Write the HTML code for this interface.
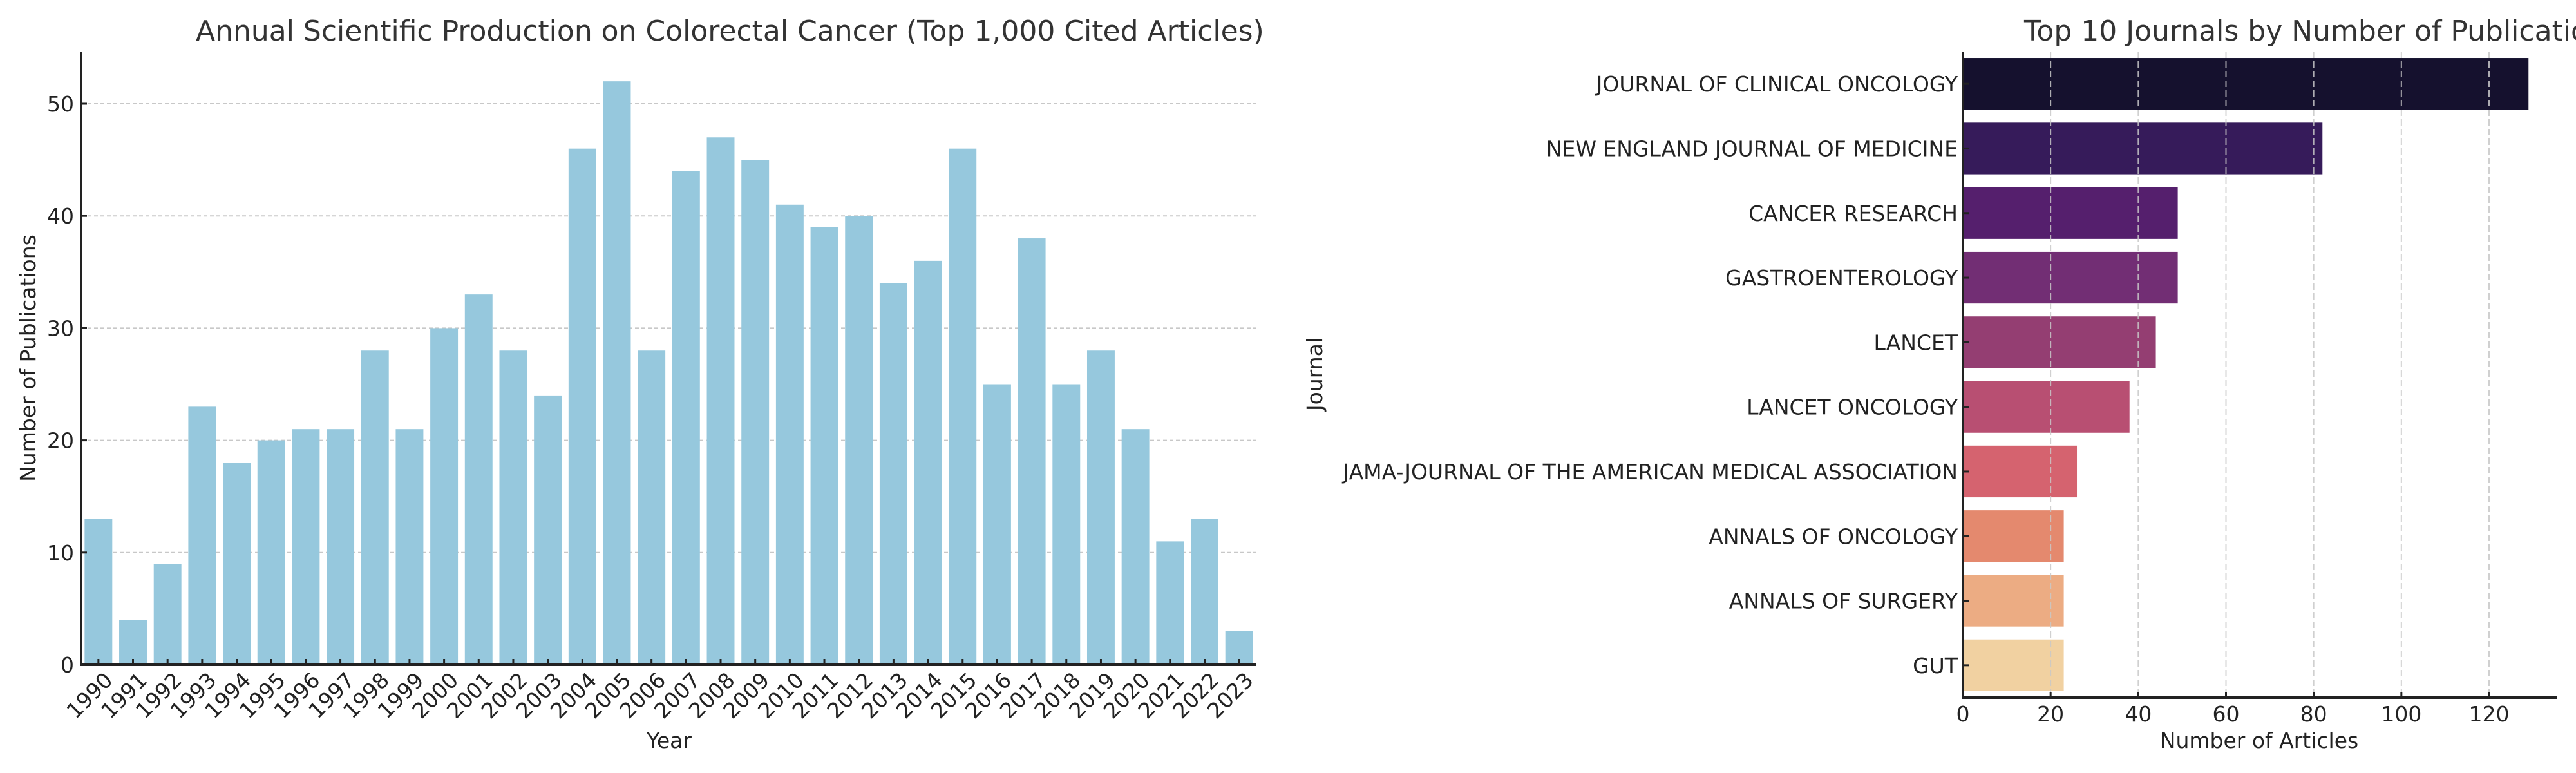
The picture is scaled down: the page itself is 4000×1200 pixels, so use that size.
<!DOCTYPE html>
<html><head><meta charset="utf-8"><style>
html,body{margin:0;padding:0;background:#fff;}
svg{display:block;font-family:"DejaVu Sans","Liberation Sans",sans-serif;}
</style></head><body>
<svg id="chart" width="4000" height="1200" viewBox="0 0 4000 1200" xmlns="http://www.w3.org/2000/svg">
<g id="left"></g>
<g id="right"></g>
</svg>
<script>
const years = ["1990","1991","1992","1993","1994","1995","1996","1997","1998","1999","2000","2001","2002","2003","2004","2005","2006","2007","2008","2009","2010","2011","2012","2013","2014","2015","2016","2017","2018","2019","2020","2021","2022","2023"];
const pubs = [13,4,9,23,18,20,21,21,28,21,30,33,28,24,46,52,28,44,47,45,41,39,40,34,36,46,25,38,25,28,21,11,13,3];
const yTicks = [0,10,20,30,40,50];
const journals = ["JOURNAL OF CLINICAL ONCOLOGY","NEW ENGLAND JOURNAL OF MEDICINE","CANCER RESEARCH","GASTROENTEROLOGY","LANCET","LANCET ONCOLOGY","JAMA-JOURNAL OF THE AMERICAN MEDICAL ASSOCIATION","ANNALS OF ONCOLOGY","ANNALS OF SURGERY","GUT"];
const articles = [129,82,49,49,44,38,26,23,23,23];
const xTicks = [0,20,40,60,80,100,120];
const palette = ["#15112e","#361b5a","#551f6d","#722e74","#943e72","#b84f72","#d5636f","#e4896e","#ecac83","#f1d1a1"];

const NS="http://www.w3.org/2000/svg";
function mk(parent,tag,attrs,text){const e=document.createElementNS(NS,tag);for(const k in attrs)e.setAttribute(k,attrs[k]);if(text!==undefined)e.textContent=text;parent.appendChild(e);return e;}

// ---- Left chart ----
const L=document.getElementById('left');
const lx0=126,lx1=1951,ly0=1032,ly1=80;
const xL=i=>lx0+(i+0.5)*(lx1-lx0)/years.length;
const bwL=0.8*(lx1-lx0)/years.length;
const yL=v=>ly0-v*(ly0-161)/50;
yTicks.forEach(t=>{ if(t>0){
  const g=mk(L,'line',{x1:lx0,x2:lx1,y1:yL(t),y2:yL(t),stroke:'#c8c8c8','stroke-width':2,'stroke-dasharray':'6,4'});
  
  }
});
pubs.forEach((v,i)=>{
  const r=mk(L,'rect',{x:xL(i)-bwL/2,y:yL(v),width:bwL,height:yL(0)-yL(v),fill:'#96c8dd'});
  
  
});
mk(L,'line',{x1:lx0,x2:lx0,y1:ly1,y2:ly0+2,stroke:'#222','stroke-width':3});
mk(L,'line',{x1:lx0,x2:lx1,y1:ly0,y2:ly0,stroke:'#222','stroke-width':4});
yTicks.forEach(t=>{
  mk(L,'line',{x1:lx0,x2:lx0+9,y1:yL(t),y2:yL(t),stroke:'#222','stroke-width':3});
  const tx=mk(L,'text',{x:115,y:yL(t)+12,'text-anchor':'end','font-size':33,fill:'#222'},t);
  
  
});
years.forEach((y,i)=>{
  mk(L,'line',{x1:xL(i),x2:xL(i),y1:ly0,y2:ly0-9,stroke:'#222','stroke-width':3});
  const x=xL(i)+24,yy=1058;
  const tx=mk(L,'text',{x:x,y:yy,'text-anchor':'end','font-size':33,fill:'#222',transform:`rotate(-45 ${x} ${yy})`},y);
  
  
});
let t1=mk(L,'text',{x:304,y:63,'font-size':44,fill:'#333'},'Annual Scientific Production on Colorectal Cancer (Top 1,000 Cited Articles)');

let xl=mk(L,'text',{x:1039,y:1161,'text-anchor':'middle','font-size':33,fill:'#222'},'Year');

let yl=mk(L,'text',{x:55,y:556,'text-anchor':'middle','font-size':33,fill:'#222',transform:'rotate(-90 55 556)'},'Number of Publications');


// ---- Right chart ----
const R=document.getElementById('right');
const rx0=3048,rx1=3971,ry0=80,ry1=1083;
const xR=v=>rx0+v*(3865-rx0)/120;
const stepR=(ry1-ry0)/journals.length;
const yR=i=>ry0+(i+0.5)*stepR;
articles.forEach((v,i)=>{
  const r=mk(R,'rect',{x:rx0,y:yR(i)-0.4*stepR,width:xR(v)-rx0,height:0.8*stepR,fill:palette[i]});
  
  
});
xTicks.forEach(t=>{ if(t>0){
  const g=mk(R,'line',{x1:xR(t),x2:xR(t),y1:ry0,y2:ry1,stroke:'#c8c8c8','stroke-width':2,'stroke-dasharray':'10,5','stroke-opacity':0.85});
  
  }
});
mk(R,'line',{x1:rx0,x2:rx0,y1:ry0,y2:ry1+2,stroke:'#222','stroke-width':3});
mk(R,'line',{x1:rx0,x2:rx1,y1:ry1,y2:ry1,stroke:'#222','stroke-width':4});
journals.forEach((j,i)=>{
  mk(R,'line',{x1:rx0,x2:rx0+9,y1:yR(i),y2:yR(i),stroke:'#222','stroke-width':3});
  const tx=mk(R,'text',{x:3040,y:yR(i)+12,'text-anchor':'end','font-size':33,fill:'#222'},j);
  
  
});
xTicks.forEach(t=>{
  mk(R,'line',{x1:xR(t),x2:xR(t),y1:ry1,y2:ry1-9,stroke:'#222','stroke-width':3});
  const tx=mk(R,'text',{x:xR(t),y:1120,'text-anchor':'middle','font-size':33,fill:'#222'},t);
  
  
});
let t2=mk(R,'text',{x:3143,y:63,'font-size':44,fill:'#333'},'Top 10 Journals by Number of Publications');

let xr=mk(R,'text',{x:3508,y:1161,'text-anchor':'middle','font-size':33,fill:'#222'},'Number of Articles');

let yr=mk(R,'text',{x:2053,y:581,'text-anchor':'middle','font-size':33,fill:'#222',transform:'rotate(-90 2053 581)'},'Journal');

</script>
</body></html>
